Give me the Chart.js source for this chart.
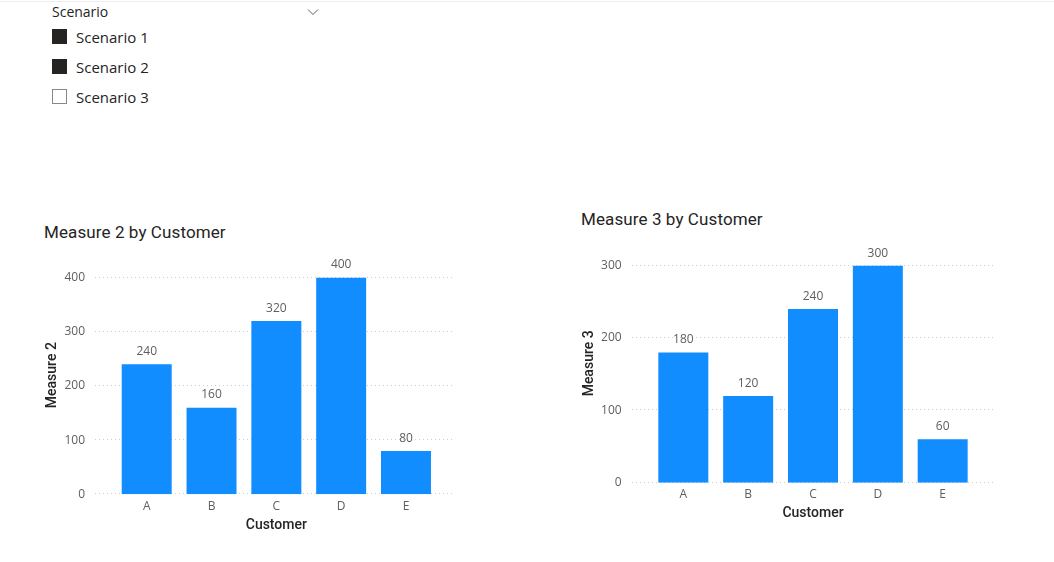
<!DOCTYPE html>
<html><head><meta charset="utf-8">
<script src="https://cdn.jsdelivr.net/npm/chart.js@4.4.1/dist/chart.umd.min.js"></script>
<style>
html,body{margin:0;padding:0;}
body{width:1054px;height:562px;background:#fff;position:relative;overflow:hidden;font-family:"Open Sans","Noto Sans",sans-serif;}
.topline{position:absolute;left:0;top:1px;width:1054px;height:1px;background:#ededed;}
.slhead{position:absolute;left:52px;top:2px;height:20px;line-height:20px;font-size:14px;color:#252423;}
.chev{position:absolute;left:307px;top:8px;}
.item{position:absolute;left:52px;height:20px;line-height:20px;font-size:15px;color:#252423;}
.box{position:absolute;left:0;top:2px;width:13px;height:13px;border:1px solid #252423;box-sizing:content-box;}
.box.on{background:#252423;}
.box.off{background:#fff;border-color:#8a8886;}
.item span{position:absolute;left:24px;top:0;white-space:nowrap;}
.ctitle{position:absolute;font-family:Roboto,sans-serif;font-size:17px;color:#252423;height:20px;line-height:20px;white-space:nowrap;letter-spacing:0.1px;}
canvas{position:absolute;}
</style></head><body>
<div class="topline"></div>
<div class="slhead" id="slhead"></div>
<svg class="chev" width="12" height="8" viewBox="0 0 12 8"><polyline points="1,1.5 6,6.5 11,1.5" fill="none" stroke="#605E5C" stroke-width="1"/></svg>
<div id="items"></div>
<div class="ctitle" id="t1" style="left:44px;top:221.7px;"></div>
<div class="ctitle" id="t2" style="left:581px;top:209.3px;"></div>
<canvas id="c1" width="480" height="345" style="left:0px;top:200px;"></canvas>
<canvas id="c2" width="500" height="345" style="left:540px;top:190px;"></canvas>
<script>
// ---- data ----
const slicerTitle = 'Scenario';
const scenarios = ['Scenario 1', 'Scenario 2', 'Scenario 3'];
const scenarioSelected = [true, true, false];

const customers = ['A', 'B', 'C', 'D', 'E'];
const measure2 = [240, 160, 320, 400, 80];
const measure3 = [180, 120, 240, 300, 60];

const measure2Ticks = [0, 100, 200, 300, 400];
const measure3Ticks = [0, 100, 200, 300];
const measure2AxisMax = 440;
const measure3AxisMax = 330;

const chart1Title = 'Measure 2 by Customer';
const chart2Title = 'Measure 3 by Customer';
const xAxisTitle = 'Customer';

// ---- slicer ----
document.getElementById('slhead').textContent = slicerTitle;
const itemsEl = document.getElementById('items');
scenarios.forEach((s, i) => {
  const d = document.createElement('div');
  d.className = 'item';
  d.style.top = (27 + i * 30) + 'px';
  d.innerHTML = '<div class="box ' + (scenarioSelected[i] ? 'on' : 'off') + '"></div><span></span>';
  d.querySelector('span').textContent = s;
  itemsEl.appendChild(d);
});
document.getElementById('t1').textContent = chart1Title;
document.getElementById('t2').textContent = chart2Title;

// ---- plugins ----
const dottedGrid = {
  id: 'dottedGrid',
  beforeDatasetsDraw(chart, args, opts) {
    const {ctx, chartArea} = chart;
    const ys = chart.scales.y;
    ctx.save();
    ctx.fillStyle = '#cfcdcb';
    (opts.ticks || []).forEach(v => {
      const py = Math.round(ys.getPixelForValue(v));
      for (let x = chartArea.left - opts.extL; x <= chartArea.right + opts.extR; x += 4) {
        ctx.fillRect(Math.round(x), py - 1, 1, 1);
      }
    });
    ctx.restore();
  }
};
const barLabels = {
  id: 'barLabels',
  afterDatasetsDraw(chart) {
    const {ctx} = chart;
    const meta = chart.getDatasetMeta(0);
    const data = chart.data.datasets[0].data;
    ctx.save();
    ctx.font = '12px "Open Sans"';
    ctx.fillStyle = '#605E5C';
    ctx.textAlign = 'center';
    ctx.textBaseline = 'middle';
    meta.data.forEach((el, i) => {
      ctx.fillText(String(data[i]), el.x, el.y - 12.6);
    });
    ctx.restore();
  }
};

function makeChart(id, values, ticks, axisMax, yTitle, geo) {
  return new Chart(document.getElementById(id), {
    type: 'bar',
    data: {
      labels: customers,
      datasets: [{
        data: values,
        backgroundColor: '#118DFF',
        borderWidth: 0,
        categoryPercentage: 1,
        barPercentage: 0.771
      }]
    },
    options: {
      responsive: false,
      animation: false,
      devicePixelRatio: 1,
      layout: {padding: {left: 0, right: geo.padR, top: geo.padT, bottom: geo.padB}},
      plugins: {
        legend: {display: false},
        tooltip: {enabled: false},
        title: {display: false},
        dottedGrid: {ticks: ticks, extL: geo.extL, extR: geo.extR}
      },
      scales: {
        x: {
          type: 'category',
          offset: true,
          grid: {display: false, drawTicks: false},
          border: {display: false},
          ticks: {color: '#605E5C', font: {family: 'Open Sans', size: 12}, padding: geo.xTickPad, maxRotation: 0, autoSkip: false},
          title: {display: true, text: xAxisTitle, color: '#252423', font: {family: 'Roboto', size: 14, weight: '500'}, padding: {top: 0, bottom: 0}},
          afterFit(s) { s.height = geo.xH; }
        },
        y: {
          min: 0,
          max: axisMax,
          grid: {display: false, drawTicks: false},
          border: {display: false},
          afterBuildTicks(s) { s.ticks = ticks.map(v => ({value: v})); },
          ticks: {color: '#605E5C', font: {family: 'Open Sans', size: 12}, padding: geo.yTickPad},
          title: {display: true, text: yTitle, color: '#252423', font: {family: 'Roboto', size: 14, weight: '500'}, padding: {top: geo.yTitlePad, bottom: 0}},
          afterFit(s) { s.width = geo.yW; }
        }
      }
    },
    plugins: [dottedGrid, barLabels]
  });
}

makeChart('c1', measure2, measure2Ticks, measure2AxisMax, 'Measure 2', {
  padR: 41.6, padT: 56.0, padB: 11.6, xH: 39.1, yW: 114.3,
  xTickPad: 5.3, yTickPad: 29.3, yTitlePad: 43.6, extL: 19.3, extR: 14.6
});
makeChart('c2', measure3, measure3Ticks, measure3AxisMax, 'Measure 3', {
  padR: 64.9, padT: 54.0, padB: 13.3, xH: 39.0, yW: 110.9,
  xTickPad: 5.1, yTickPad: 29.2, yTitlePad: 40.6, extL: 19.2, extR: 16.6
});
</script>
</body></html>
